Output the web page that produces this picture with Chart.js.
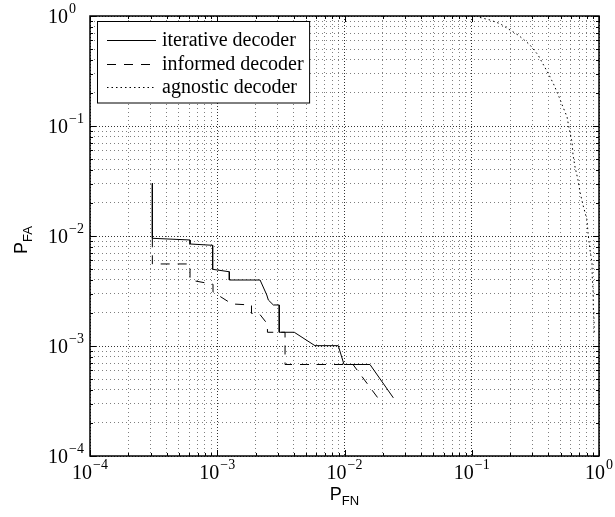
<!DOCTYPE html>
<html>
<head>
<meta charset="utf-8">
<script src="https://cdn.jsdelivr.net/npm/chart.js@4.4.1/dist/chart.umd.min.js"></script>
<style>
  html, body { margin: 0; padding: 0; background: #fff; }
  #wrap { width: 615px; height: 517px; }
</style>
</head>
<body>
<div id="wrap"><canvas id="roc" width="615" height="517"></canvas></div>
<script>
// P_FN (x) / P_FA (y) pairs
const iterFN = [3.09e-4, 3.09e-4, 6.11e-4, 6.11e-4, 9.2e-4, 9.2e-4, 1.244e-3, 1.244e-3, 2.17e-3, 2.45e-3, 2.52e-3, 2.76e-3, 3.07e-3, 3.07e-3, 4.03e-3, 5.86e-3, 8.93e-3, 9.91e-3, 1.585e-2, 2.42e-2];
const iterFA = [3.01e-2, 9.53e-3, 9.2e-3, 8.46e-3, 8.23e-3, 4.98e-3, 4.73e-3, 3.98e-3, 3.98e-3, 2.91e-3, 2.62e-3, 2.36e-3, 2.36e-3, 1.333e-3, 1.333e-3, 1.007e-3, 1.007e-3, 6.79e-4, 6.79e-4, 3.38e-4];

const infFN = [3.09e-4, 3.09e-4, 6.11e-4, 6.11e-4, 9.26e-4, 9.26e-4, 1.306e-3, 1.858e-3, 1.858e-3, 2.13e-3, 2.48e-3, 2.48e-3, 3.41e-3, 3.41e-3, 1.166e-2, 1.83e-2];
const infFA = [9.53e-3, 5.57e-3, 5.57e-3, 3.98e-3, 3.64e-3, 3.10e-3, 2.41e-3, 2.36e-3, 1.98e-3, 1.98e-3, 1.585e-3, 1.333e-3, 1.333e-3, 6.79e-4, 6.79e-4, 3.37e-4];

const agnFN = [0.116, 0.139, 0.167, 0.2, 0.231, 0.253, 0.287, 0.332, 0.363, 0.405, 0.443, 0.485, 0.521, 0.561, 0.581, 0.614, 0.625, 0.648, 0.684, 0.709, 0.749, 0.805, 0.82, 0.85, 0.881, 0.885, 0.898, 0.902, 0.914, 0.918];
const agnFA = [0.97, 0.92, 0.851, 0.746, 0.672, 0.618, 0.545, 0.442, 0.366, 0.291, 0.236, 0.184, 0.149, 0.121, 0.096, 0.0716, 0.0545, 0.0424, 0.0323, 0.0251, 0.0191, 0.0140, 0.0106, 0.00746, 0.00569, 0.00424, 0.00323, 0.00226, 0.00172, 0.00126];

const seriesNames = ['iterative decoder', 'informed decoder', 'agnostic decoder'];
const decades = [1e-4, 1e-3, 1e-2, 1e-1, 1];
const decadeExp = ['\u22124', '\u22123', '\u22122', '\u22121', '0'];

const SERIF = '"Liberation Serif", "Times New Roman", serif';
const SANS = '"Liberation Sans", Arial, sans-serif';

function toPoints(xs, ys) {
    return xs.map((x, i) => ({x: x, y: ys[i]}));
}

// decade + 2..9 minor positions
function logTicks() {
    const t = [];
    for (let d = 0; d < decades.length - 1; d++) {
        for (let k = 1; k <= 9; k++) t.push({value: k * decades[d], major: k === 1});
    }
    t.push({value: decades[decades.length - 1], major: true});
    return t;
}

function gridAxis() {
    return {
        type: 'logarithmic',
        min: decades[0],
        max: decades[decades.length - 1],
        afterBuildTicks: s => { s.ticks = logTicks(); },
        ticks: { display: false },
        grid: {
            drawTicks: false,
            lineWidth: 1,
            color: c => (c.tick && c.tick.major) ? 'rgba(0,0,0,0.8)' : 'rgba(0,0,0,0.5)',
        },
        border: {
            display: false,
            dash: c => (c.tick && c.tick.major) ? [1, 2] : [1, 3],
        },
    };
}

const frame = {
    id: 'frame',
    afterDraw(chart) {
        const ctx = chart.ctx;
        const a = chart.chartArea;
        const xs = chart.scales.x, ys = chart.scales.y;
        ctx.save();

        // box + inward ticks on all sides
        ctx.strokeStyle = '#000';
        ctx.lineWidth = 1.5;
        ctx.strokeRect(a.left, a.top, a.right - a.left, a.bottom - a.top);
        ctx.lineWidth = 1;
        ctx.beginPath();
        xs.ticks.forEach(t => {
            const p = Math.round(xs.getPixelForValue(t.value)) + 0.5;
            const len = t.major ? 6 : 3;
            ctx.moveTo(p, a.bottom); ctx.lineTo(p, a.bottom - len);
            ctx.moveTo(p, a.top); ctx.lineTo(p, a.top + len);
        });
        ys.ticks.forEach(t => {
            const p = Math.round(ys.getPixelForValue(t.value)) + 0.5;
            const len = t.major ? 6 : 3;
            ctx.moveTo(a.left, p); ctx.lineTo(a.left + len, p);
            ctx.moveTo(a.right, p); ctx.lineTo(a.right - len, p);
        });
        ctx.stroke();

        // tick labels 10^n
        ctx.fillStyle = '#000';
        ctx.textBaseline = 'alphabetic';
        ctx.textAlign = 'left';
        decades.forEach((v, i) => {
            ctx.font = '20px ' + SERIF;
            const w10 = ctx.measureText('10').width;
            ctx.font = '14px ' + SERIF;
            const we = ctx.measureText(decadeExp[i]).width;
            const px = xs.getPixelForValue(v);
            const start = px - (w10 + we + 1) / 2;
            ctx.font = '20px ' + SERIF;
            ctx.fillText('10', start, a.bottom + 23);
            ctx.font = '14px ' + SERIF;
            ctx.fillText(decadeExp[i], start + w10 + 1, a.bottom + 13);

            const py = ys.getPixelForValue(v);
            ctx.font = '20px ' + SERIF;
            ctx.fillText('10', 48, py + 7);
            ctx.font = '14px ' + SERIF;
            ctx.fillText(decadeExp[i], 48 + w10 + 1, py - 3);
        });

        // axis titles
        const drawSub = (main, sub, cx, base) => {
            ctx.font = '18px ' + SANS;
            const wm = ctx.measureText(main).width;
            ctx.font = '13px ' + SANS;
            const ws = ctx.measureText(sub).width;
            const s = cx - (wm + ws) / 2;
            ctx.font = '18px ' + SANS;
            ctx.fillText(main, s, base);
            ctx.font = '13px ' + SANS;
            ctx.fillText(sub, s + wm, base + 5);
        };
        drawSub('P', 'FN', (a.left + a.right) / 2, a.bottom + 44);
        ctx.save();
        ctx.translate(20, 240);
        ctx.rotate(-Math.PI / 2);
        drawSub('P', 'FA', 0, 7);
        ctx.restore();

        // legend box in the upper-left corner
        const lx = 97.5, ly = 21.5, rowH = 23.5, firstRow = 40;
        ctx.font = '20px ' + SERIF;
        let maxW = 0;
        chart.data.datasets.forEach(d => { maxW = Math.max(maxW, ctx.measureText(d.label).width); });
        const boxW = (162 - lx) + maxW + 6;
        const boxH = (firstRow - ly) + rowH * 2 + 16;
        ctx.fillStyle = '#fff';
        ctx.fillRect(lx, ly, boxW, boxH);
        ctx.strokeStyle = '#000';
        ctx.lineWidth = 1;
        ctx.strokeRect(lx, ly, boxW, boxH);
        chart.data.datasets.forEach((d, i) => {
            const y = Math.round(firstRow + i * rowH) + 0.5;
            ctx.save();
            ctx.strokeStyle = d.borderColor;
            ctx.lineWidth = d.borderWidth;
            ctx.setLineDash(d.borderDash || []);
            ctx.beginPath();
            ctx.moveTo(107, y);
            ctx.lineTo(156, y);
            ctx.stroke();
            ctx.restore();
            ctx.fillStyle = '#000';
            ctx.textBaseline = 'middle';
            ctx.fillText(d.label, 162, y);
        });
        ctx.restore();
    }
};

const lineStyle = {
    showLine: true,
    fill: false,
    tension: 0,
    pointRadius: 0,
    pointHoverRadius: 0,
    borderColor: '#000',
    borderWidth: 1,
};

new Chart(document.getElementById('roc'), {
    type: 'scatter',
    data: {
        datasets: [
            Object.assign({label: seriesNames[0], data: toPoints(iterFN, iterFA), borderDash: []}, lineStyle),
            Object.assign({label: seriesNames[1], data: toPoints(infFN, infFA), borderDash: [9, 8]}, lineStyle),
            Object.assign({label: seriesNames[2], data: toPoints(agnFN, agnFA), borderDash: [1.5, 3]}, lineStyle),
        ]
    },
    options: {
        responsive: false,
        animation: false,
        devicePixelRatio: 1,
        layout: { padding: { left: 90, right: 16, top: 16, bottom: 61 } },
        scales: { x: gridAxis(), y: gridAxis() },
        plugins: {
            legend: { display: false },
            tooltip: { enabled: false },
        },
    },
    plugins: [frame],
});
</script>
</body>
</html>
